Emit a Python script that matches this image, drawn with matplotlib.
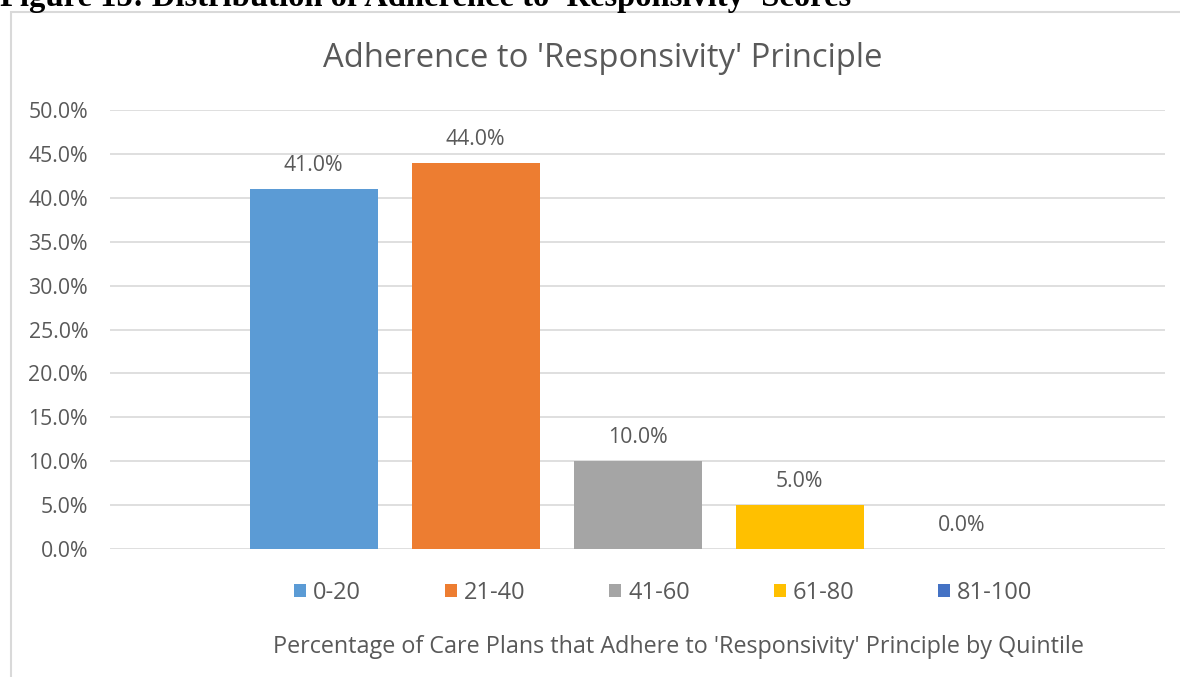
import matplotlib
matplotlib.use("Agg")
import matplotlib.pyplot as plt
from matplotlib.patches import Rectangle
from matplotlib.ticker import FuncFormatter

# Quintile groups (each drawn as its own series) and their shares
quintiles = ["0-20", "21-40", "41-60", "61-80", "81-100"]
shares = [41.0, 44.0, 10.0, 5.0, 0.0]
colors = ["#5B9BD5", "#ED7D31", "#A5A5A5", "#FFC000", "#4472C4"]
y_ticks = [0, 5, 10, 15, 20, 25, 30, 35, 40, 45, 50]

heading = "Figure 15: Distribution of Adherence to 'Responsivity' Scores"
chart_title = "Adherence to 'Responsivity' Principle"
x_title = "Percentage of Care Plans that Adhere to 'Responsivity' Principle by Quintile"

TXT = "#595959"
GRID = "#D9D9D9"
FONT = ["Open Sans", "DejaVu Sans"]

W, H = 1180, 677
fig = plt.figure(figsize=(W / 100, H / 100), dpi=100)
fig.patch.set_facecolor("white")


def fx(px):
    return px / W


def fy(py):
    return 1 - py / H


# Chart frame
fig.patches.append(Rectangle((fx(11), -0.1), 1.2, fy(12) + 0.1,
                             transform=fig.transFigure, fill=False,
                             edgecolor=GRID, linewidth=1.5, zorder=0))

# Document heading, partly cut off by the top edge
fig.text(0, fy(6), heading, fontsize=23.5, fontweight="bold",
         family=["Liberation Serif", "DejaVu Serif"], color="black",
         ha="left", va="baseline")

left, right, top, bottom = 110, 1165, 110, 549
ax = fig.add_axes([fx(left), fy(bottom), fx(right - left), (bottom - top) / H])

x = list(range(len(quintiles)))
ax.bar(x, shares, width=128 / 162, color=colors, zorder=3)

half = (right - left) / 162 / 2
ax.set_xlim(2 - half, 2 + half)
ax.set_ylim(0, 50)
ax.set_yticks(y_ticks)
ax.yaxis.set_major_formatter(FuncFormatter(lambda v, p: f"{v:.1f}%"))
ax.tick_params(axis="y", length=0, pad=15.8, labelsize=15.3, labelcolor=TXT)
for lab in ax.get_yticklabels():
    lab.set_family(FONT)
ax.set_xticks([])
ax.grid(axis="y", color=GRID, linewidth=1.2, zorder=0)
for s in ax.spines.values():
    s.set_visible(False)

for xi, v in zip(x, shares):
    ax.annotate(f"{v:.1f}%", (xi, v), xytext=(0, 13), textcoords="offset points",
                ha="center", va="baseline", fontsize=15.3, color=TXT, family=FONT)

fig.text(fx(603), fy(67), chart_title, ha="center", va="baseline",
         fontsize=23.6, color=TXT, family=FONT)

# Legend
handles = [Rectangle((0, 0), 1, 1, facecolor=c) for c in colors]
leg = fig.legend(handles, quintiles, loc="center", bbox_to_anchor=(fx(663.5), fy(593)),
                 ncol=5, frameon=False, handlelength=0.5, handleheight=0.5,
                 handletextpad=0.3, columnspacing=3.55, borderpad=0,
                 prop={"family": FONT, "size": 17})
for t in leg.get_texts():
    t.set_color(TXT)

fig.text(fx(678), fy(653), x_title, ha="center", va="baseline",
         fontsize=16.8, color=TXT, family=FONT)

fig.savefig("out.png", dpi=100)
